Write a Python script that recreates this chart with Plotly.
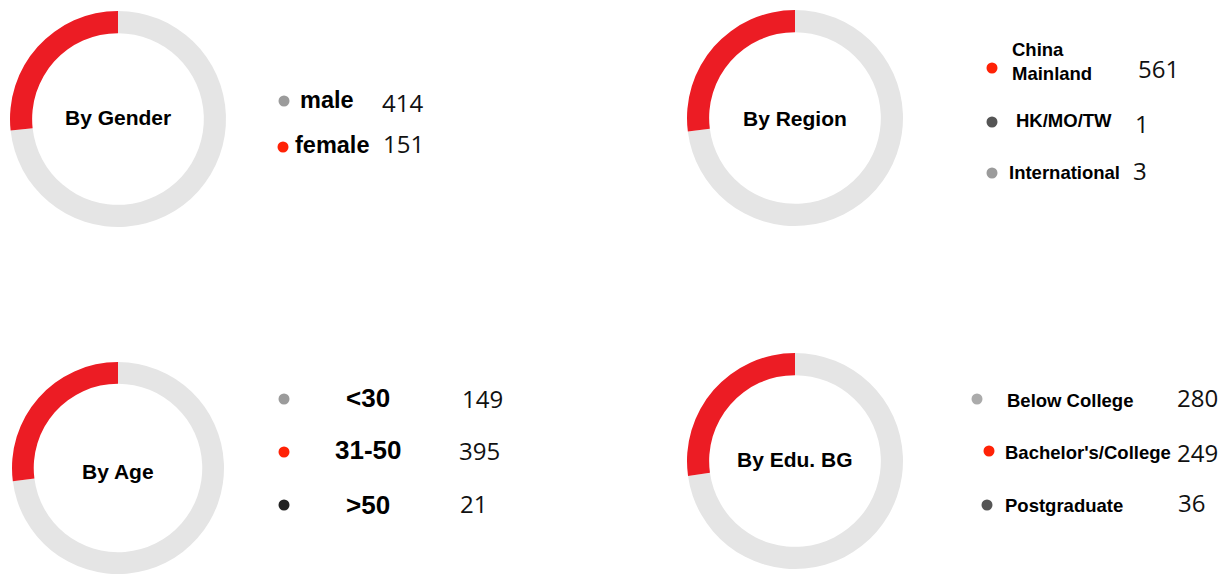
import plotly.graph_objects as go

# ---- data -------------------------------------------------------------
panel_titles = ["By Gender", "By Region", "By Age", "By Edu. BG"]

gender_labels = ["male", "female"]
gender_counts = [414, 151]

region_labels = ["China<br>Mainland", "HK/MO/TW", "International"]
region_counts = [561, 1, 3]

age_labels = ["<30", "31-50", ">50"]
age_counts = [149, 395, 21]

edu_labels = ["Below College", "Bachelor's/College", "Postgraduate"]
edu_counts = [280, 249, 36]

# share of each ring drawn as the red arc (percent)
ring_share_pct = [26.7, 27.0, 27.0, 27.2]

# ---- canvas helpers ---------------------------------------------------
W, H = 1221, 574
RED_RING = "#ec1c24"
GREY_RING = "#e5e5e5"
DOT_RED = "#ff2206"
DOT_GREY = "#9b9b9b"
DOT_LIGHT = "#ababab"
DOT_DARK = "#555555"
DOT_BLACK = "#222222"
LABEL_FONT = "Liberation Sans, Arial, sans-serif"
NUM_FONT = "Open Sans, Noto Sans, sans-serif"


def px(x):
    return x / W


def py(y):
    return 1 - y / H


fig = go.Figure()

# donut boxes in pixels: (left, top, right, bottom)
ring_boxes = [
    (10, 11, 226, 227),
    (687, 10, 903, 226),
    (12, 362, 224, 574),
    (687, 353, 903, 569),
]

for title, share, (l, t, r, b) in zip(panel_titles, ring_share_pct, ring_boxes):
    # grey runs clockwise from 12 o'clock, so the red arc closes the ring
    # on the upper-left quarter
    fig.add_trace(go.Pie(
        values=[100 - share, share],
        labels=["rest", "highlight"],
        sort=False,
        direction="clockwise",
        rotation=0,
        hole=0.795,
        marker=dict(colors=[GREY_RING, RED_RING], line=dict(width=0)),
        textinfo="none",
        hoverinfo="skip",
        showlegend=False,
        domain=dict(x=[px(l), px(r)], y=[py(b), py(t)]),
    ))

annotations = []
shapes = []

# centre titles
title_pos = [(118, 118), (795, 119), (118, 471), (795, 459)]
for title, (cx, cy) in zip(panel_titles, title_pos):
    annotations.append(dict(
        x=px(cx), y=py(cy), xref="paper", yref="paper",
        text=f"<b>{title}</b>", showarrow=False,
        xanchor="center", yanchor="middle",
        font=dict(family=LABEL_FONT, size=21, color="#000000"),
    ))


def add_item(dot, color, label, lpos, lanchor, lsize, count, npos):
    dx, dy = dot
    r = 5.5
    shapes.append(dict(
        type="circle", xref="paper", yref="paper",
        x0=px(dx - r), x1=px(dx + r), y0=py(dy + r), y1=py(dy - r),
        fillcolor=color, line=dict(width=0),
    ))
    annotations.append(dict(
        x=px(lpos[0]), y=py(lpos[1]), xref="paper", yref="paper",
        text=f"<b>{label}</b>", showarrow=False,
        xanchor=lanchor, yanchor="middle", align="left",
        font=dict(family=LABEL_FONT, size=lsize, color="#000000"),
    ))
    annotations.append(dict(
        x=px(npos[0]), y=py(npos[1]), xref="paper", yref="paper",
        text=str(count), showarrow=False,
        xanchor="left", yanchor="middle",
        font=dict(family=NUM_FONT, size=24, color="#111111"),
    ))


# gender legend
gender_layout = [
    ((284, 101), DOT_GREY, (298, 100), (380, 103)),
    ((283, 147), DOT_RED, (293, 145), (381, 144)),
]
for lab, cnt, (dot, col, lp, npos) in zip(gender_labels, gender_counts, gender_layout):
    add_item(dot, col, lab, lp, "left", 23.5, cnt, npos)

# region legend
region_layout = [
    ((992, 68), DOT_RED, (1010, 61), (1136, 68)),
    ((992, 122), DOT_DARK, (1014, 120), (1133, 123)),
    ((992, 173), DOT_GREY, (1007, 172), (1131, 170)),
]
for lab, cnt, (dot, col, lp, npos) in zip(region_labels, region_counts, region_layout):
    add_item(dot, col, lab, lp, "left", 18.5, cnt, npos)

# age legend
age_layout = [
    ((284, 399), DOT_GREY, (368, 398), (460, 398)),
    ((284, 452), DOT_RED, (368, 450), (457, 450)),
    ((284, 505), DOT_BLACK, (368, 505), (458, 503)),
]
for lab, cnt, (dot, col, lp, npos) in zip(age_labels, age_counts, age_layout):
    add_item(dot, col, lab.replace("<", "&lt;").replace(">", "&gt;"), lp, "center", 26, cnt, npos)

# education legend
edu_layout = [
    ((977, 399), DOT_LIGHT, (1005, 400), (1175, 397)),
    ((989, 451), DOT_RED, (1003, 452), (1175, 452)),
    ((987, 505), DOT_DARK, (1003, 505), (1176, 502)),
]
for lab, cnt, (dot, col, lp, npos) in zip(edu_labels, edu_counts, edu_layout):
    add_item(dot, col, lab, lp, "left", 18.5, cnt, npos)

fig.update_layout(
    width=W, height=H,
    margin=dict(l=0, r=0, t=0, b=0),
    paper_bgcolor="#ffffff",
    plot_bgcolor="#ffffff",
    annotations=annotations,
    shapes=shapes,
    showlegend=False,
)

fig.write_html("out.html", config={"displayModeBar": False})
